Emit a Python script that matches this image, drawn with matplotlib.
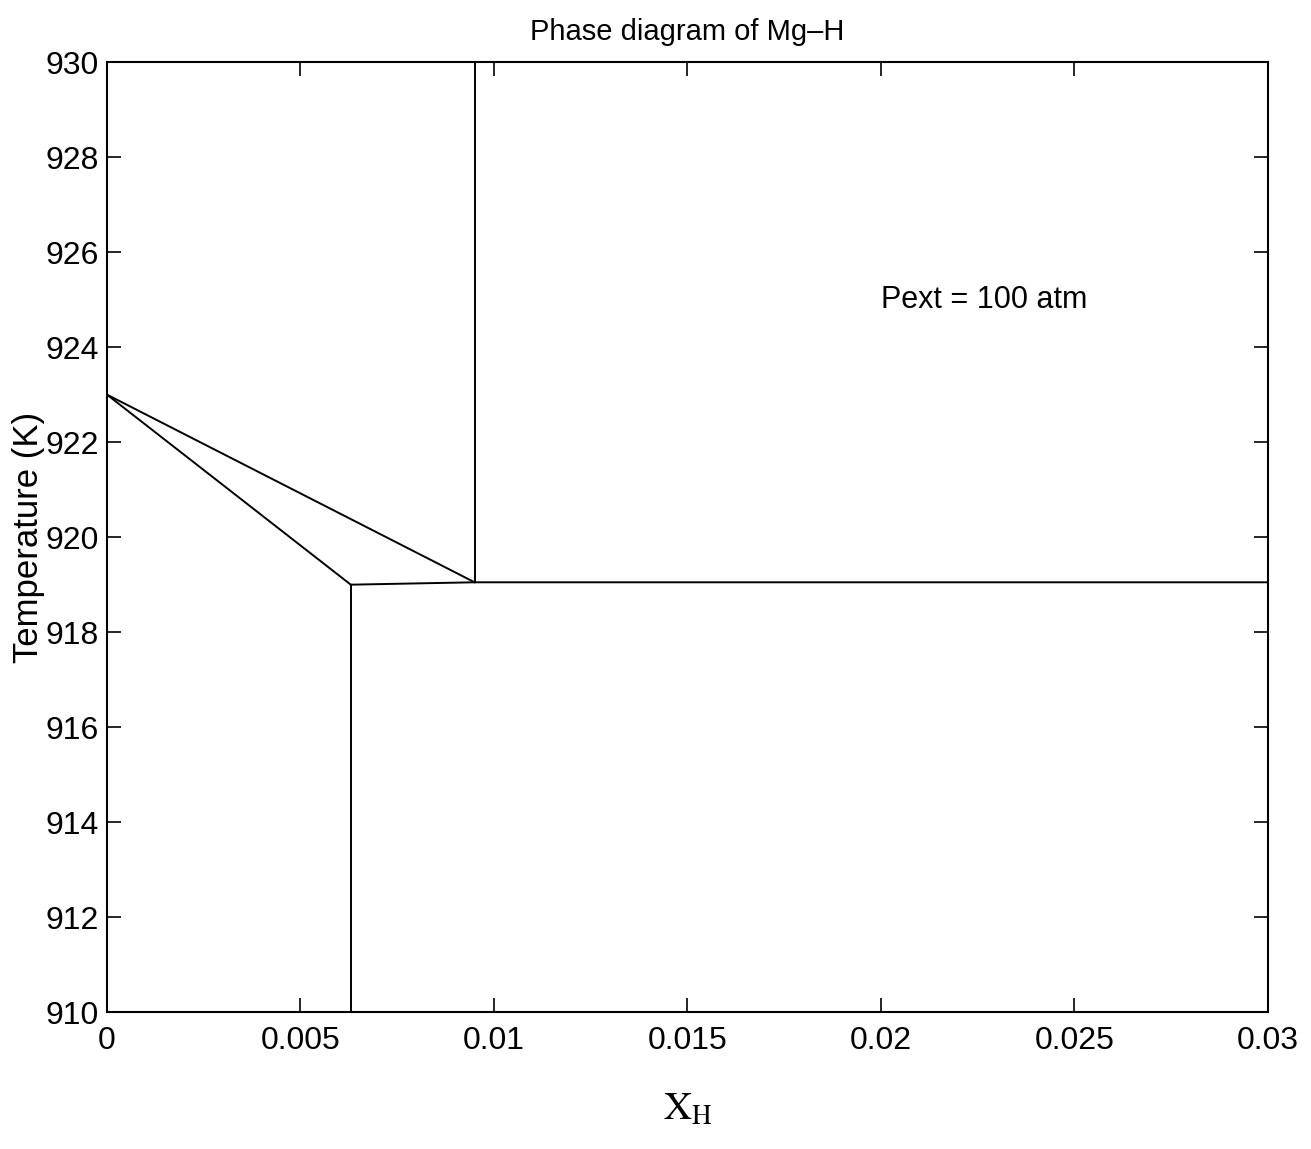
import matplotlib.pyplot as plt

plt.rcParams.update({
    "font.family": ["Liberation Sans", "DejaVu Sans"],
    "mathtext.fontset": "stix",
})

# phase boundaries (x = mole fraction H, T in K)
liquidus_x = [0.0, 0.0095]
liquidus_t = [923.0, 919.05]
solidus_x = [0.0, 0.0063]
solidus_t = [923.0, 919.0]
eutectic_x = [0.0063, 0.0095, 0.03]
eutectic_t = [919.0, 919.05, 919.05]
solvus_x = [0.0063, 0.0063]
solvus_t = [910.0, 919.0]
hydride_x = [0.0095, 0.0095]
hydride_t = [919.05, 930.0]

x_ticks = [0, 0.005, 0.01, 0.015, 0.02, 0.025, 0.03]
x_labels = ["0", "0.005", "0.01", "0.015", "0.02", "0.025", "0.03"]
y_ticks = list(range(910, 931, 2))

fig = plt.figure(figsize=(13.11, 11.49), dpi=100)
ax = fig.add_axes([0.0816, 0.119, 0.8856, 0.827])

for xs, ts in [(liquidus_x, liquidus_t), (solidus_x, solidus_t),
               (eutectic_x, eutectic_t), (solvus_x, solvus_t),
               (hydride_x, hydride_t)]:
    ax.plot(xs, ts, color="black", linewidth=1.4)

ax.set_xlim(0, 0.03)
ax.set_ylim(910, 930)
ax.set_xticks(x_ticks)
ax.set_xticklabels(x_labels)
ax.set_yticks(y_ticks)
ax.tick_params(direction="in", length=10, width=1.2, top=True, right=True,
               labelsize=23, pad=6)
ax.tick_params(axis="x", pad=10)
for s in ax.spines.values():
    s.set_linewidth(1.5)

ax.text(0.02, 925.0, "Pext = 100 atm", fontsize=22, ha="left", va="center")
ax.set_title("Phase diagram of Mg\u2013H", fontsize=21, pad=16)
ax.set_ylabel("Temperature (K)", fontsize=25, labelpad=0)
ax.set_xlabel(r"$\mathrm{X}_\mathrm{H}$", fontsize=28, labelpad=26)

fig.savefig("out.png", dpi=100, facecolor="white")
